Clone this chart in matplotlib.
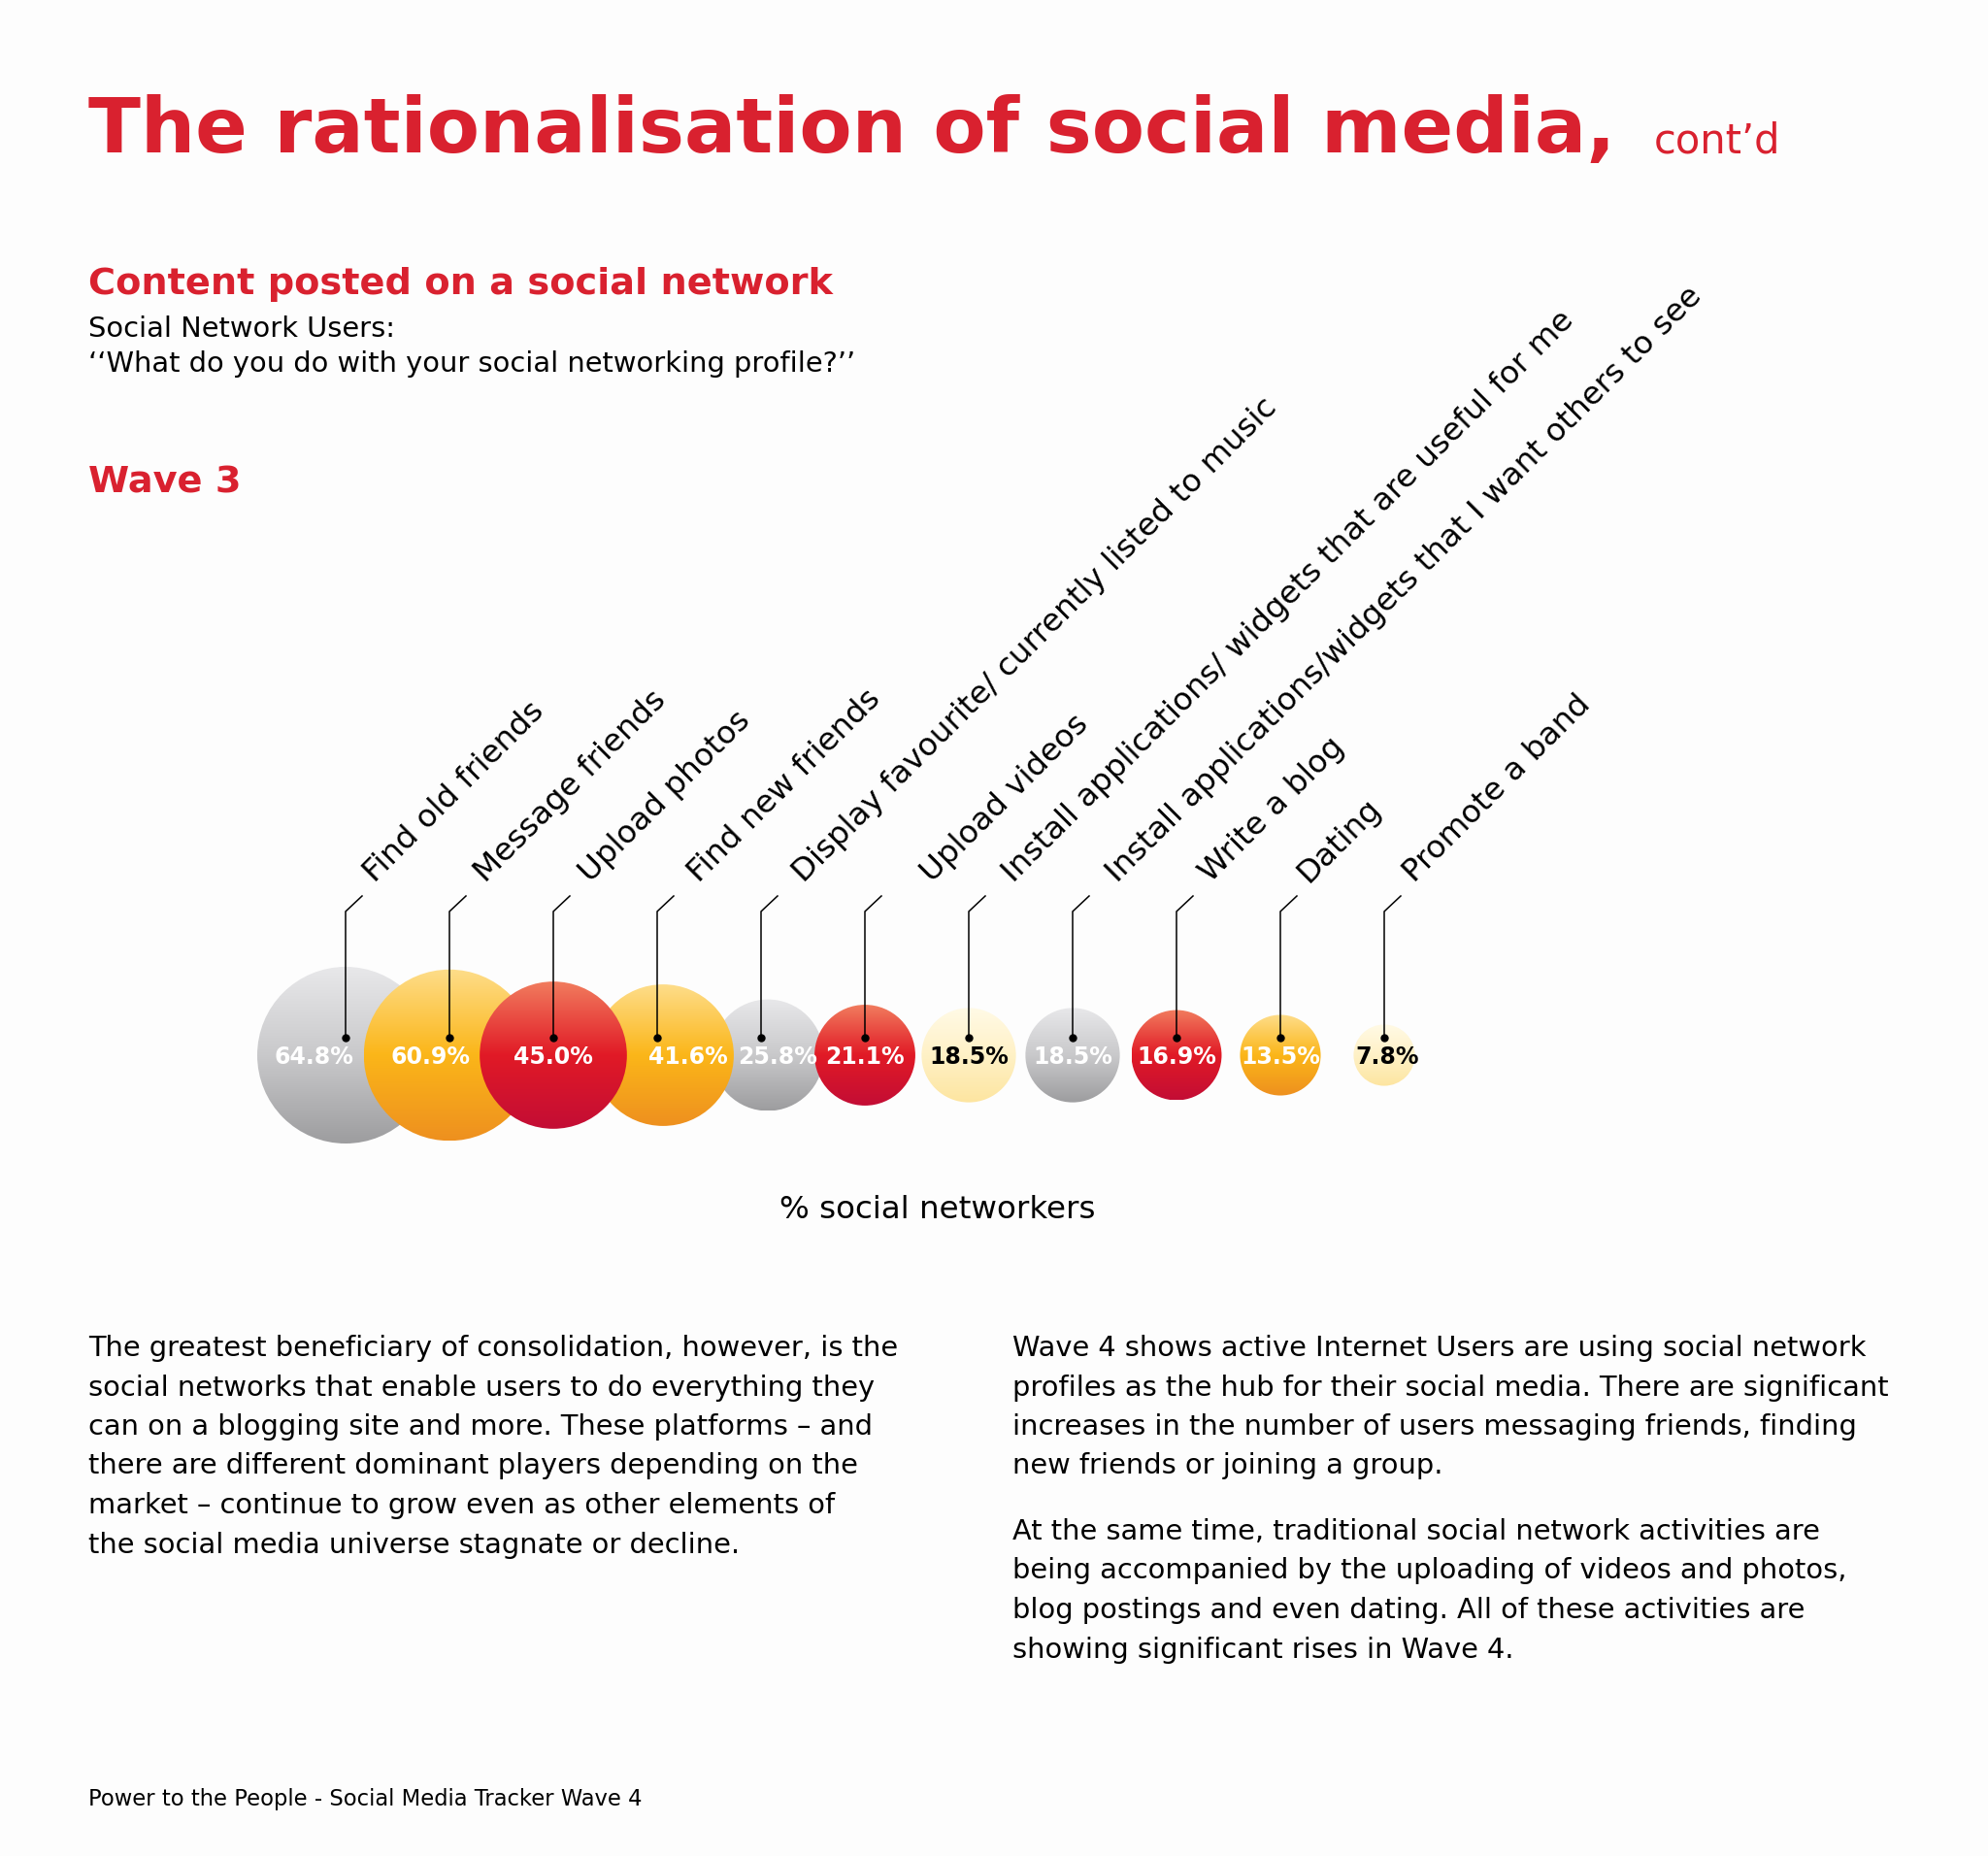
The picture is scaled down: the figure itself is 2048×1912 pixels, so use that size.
import numpy as np
import matplotlib.pyplot as plt
from matplotlib.colors import LinearSegmentedColormap
from matplotlib.patches import Circle

# ─────────── data ───────────
ACTIVITIES = [
    'Find old friends',
    'Message friends',
    'Upload photos',
    'Find new friends',
    'Display favourite/ currently listed to music',
    'Upload videos',
    'Install applications/ widgets that are useful for me',
    'Install applications/widgets that I want others to see',
    'Write a blog',
    'Dating',
    'Promote a band',
]
SHARES = [64.8, 60.9, 45.0, 41.6, 25.8, 21.1, 18.5, 18.5, 16.9, 13.5, 7.8]
TONES = ['grey', 'orange', 'red', 'orange', 'grey', 'red',
         'pale', 'grey', 'red', 'orange', 'pale']

LEFT_PARA = [
    'The greatest beneficiary of consolidation, however, is the',
    'social networks that enable users to do everything they',
    'can on a blogging site and more. These platforms \u2013 and',
    'there are different dominant players depending on the',
    'market \u2013 continue to grow even as other elements of',
    'the social media universe stagnate or decline.',
]
RIGHT_PARA_1 = [
    'Wave 4 shows active Internet Users are using social network',
    'profiles as the hub for their social media. There are significant',
    'increases in the number of users messaging friends, finding',
    'new friends or joining a group.',
]
RIGHT_PARA_2 = [
    'At the same time, traditional social network activities are',
    'being accompanied by the uploading of videos and photos,',
    'blog postings and even dating. All of these activities are',
    'showing significant rises in Wave 4.',
]

# ─────────── style ───────────
RED = '#d9212f'
TONE_STYLE = {
    # gradient top -> bottom, label colour, layer
    'grey':   (['#e8e8ea', '#c9c9cb', '#9d9d9f'], 'white', 3),
    'orange': (['#fedd8a', '#fbb619', '#ee901f'], 'white', 4),
    'red':    (['#f17c5e', '#e11a26', '#c30d35'], 'white', 5),
    'pale':   (['#fffae6', '#fff1c6', '#fde5a0'], 'black', 4),
}
LABEL_NUDGE = [-33, -19, 0, 32, 17, 0, 0, 0, 0, 0, 3]
BUBBLE_NUDGE = [0, 0, 0, 6, 7, 0, 0, 0, 0, 0, 0]
NAME_NUDGE = [0, 7, 8, 13, 14, 39, 16, 16, 5, -1, 1]

X0, STEP = 356, 107      # pixel position of first bubble and spacing
CY = 1087                # bubble centre line
DOT_Y, ELBOW_Y = 1069, 939
K = 91 / np.sqrt(64.8)   # radius scale (area ~ share)
BODY = 20.8

fig = plt.figure(figsize=(20.48, 19.12), dpi=100, facecolor='#fdfdfd')
ax = fig.add_axes([0, 0, 1, 1])
ax.set_facecolor('#fdfdfd')

grad = np.linspace(0, 1, 256).reshape(-1, 1)
for i, (name, share, tone) in enumerate(zip(ACTIVITIES, SHARES, TONES)):
    cx = X0 + i * STEP
    bx = cx + BUBBLE_NUDGE[i]
    r = K * np.sqrt(share)
    colors, txt_color, z = TONE_STYLE[tone]
    cmap = LinearSegmentedColormap.from_list(tone, colors)
    im = ax.imshow(grad, cmap=cmap, extent=(bx - r, bx + r, CY + r, CY - r),
                   origin='upper', aspect='auto', interpolation='bicubic', zorder=z)
    im.set_clip_path(Circle((bx, CY), r, transform=ax.transData))

    # leader line + dot
    ax.plot([cx, cx, cx + 17], [DOT_Y, ELBOW_Y, ELBOW_Y - 16],
            color='black', lw=1.1, zorder=20, solid_joinstyle='miter')
    ax.plot(cx, DOT_Y, 'o', ms=5, color='black', zorder=21)

    ax.text(cx + 30 + NAME_NUDGE[i], 910, name, rotation=45, rotation_mode='anchor',
            ha='left', va='baseline', fontsize=23.4, color='black')
    ax.text(cx + LABEL_NUDGE[i], 1089, f'{share:.1f}%', ha='center', va='center',
            fontsize=17, weight='bold', color=txt_color, zorder=30)

# ─────────── headings ───────────
ax.text(91, 157, 'The rationalisation of social media,', fontsize=57,
        weight='bold', color=RED, ha='left', va='baseline')
ax.text(1704, 157, 'cont\u2019d', fontsize=30, color=RED, ha='left', va='baseline')
ax.text(91, 303, 'Content posted on a social network', fontsize=27.5,
        weight='bold', color=RED, ha='left', va='baseline')
ax.text(91, 347, 'Social Network Users:', fontsize=BODY, ha='left', va='baseline')
ax.text(91, 383, '\u2018\u2018What do you do with your social networking profile?\u2019\u2019',
        fontsize=BODY, ha='left', va='baseline')
ax.text(91, 507, 'Wave 3', fontsize=27.5, weight='bold', color=RED,
        ha='left', va='baseline')
ax.text(966, 1255, '% social networkers', fontsize=23.4, ha='center', va='baseline')

# ─────────── body text ───────────
LINE = 40.5
for j, line in enumerate(LEFT_PARA):
    ax.text(91, 1397 + j * LINE, line, fontsize=BODY, ha='left', va='baseline')
for j, line in enumerate(RIGHT_PARA_1):
    ax.text(1043, 1397 + j * LINE, line, fontsize=BODY, ha='left', va='baseline')
for j, line in enumerate(RIGHT_PARA_2):
    ax.text(1043, 1586 + j * LINE, line, fontsize=BODY, ha='left', va='baseline')

ax.text(91, 1860, 'Power to the People - Social Media Tracker Wave 4',
        fontsize=16.3, ha='left', va='baseline')

ax.set_xlim(0, 2048)
ax.set_ylim(1912, 0)
ax.axis('off')

fig.savefig('out.png', dpi=100, facecolor=fig.get_facecolor())
